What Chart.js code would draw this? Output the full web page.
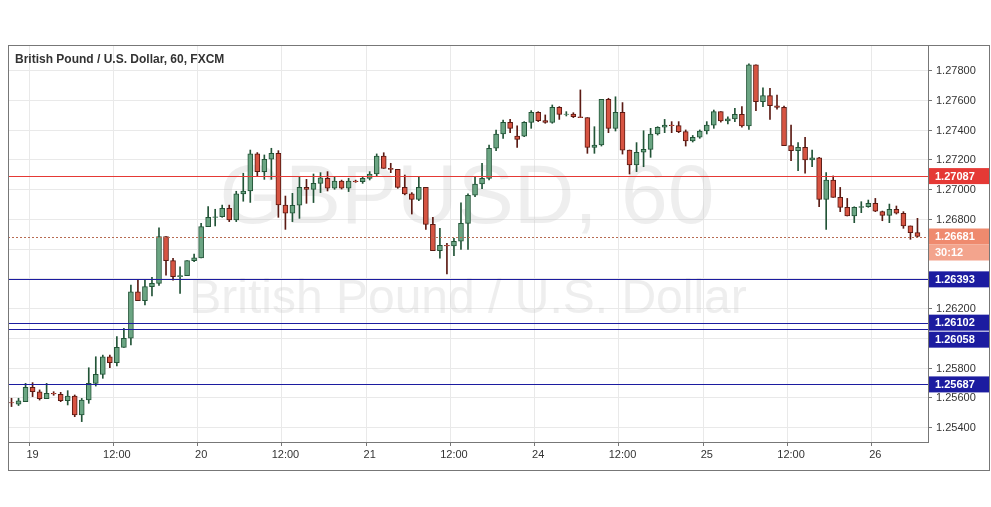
<!DOCTYPE html>
<html><head><meta charset="utf-8">
<script src="https://cdn.jsdelivr.net/npm/chart.js@4.4.1/dist/chart.umd.min.js"></script>
<style>html,body{margin:0;padding:0;background:#fff}#wrap{width:991px;height:507px}</style>
</head><body><div id="wrap"><canvas id="c"></canvas></div>
<script>
const hourIndexStart = -3;
const openP = [1.25565,1.25555,1.25571,1.25668,1.25638,1.25591,1.25627,1.25620,1.25578,1.25609,1.25482,1.25582,1.25694,1.25755,1.25873,1.25833,1.25936,1.25997,1.26310,1.26250,1.26344,1.26366,1.26680,1.26519,1.26411,1.26418,1.26519,1.26537,1.26747,1.26810,1.26814,1.26870,1.26792,1.26967,1.26987,1.27236,1.27117,1.27200,1.27240,1.26893,1.26837,1.26891,1.27011,1.26998,1.27038,1.27072,1.27005,1.27054,1.27005,1.27054,1.27050,1.27072,1.27101,1.27222,1.27139,1.27132,1.27011,1.26967,1.26931,1.27011,1.26763,1.26586,1.26622,1.26618,1.26649,1.26769,1.26958,1.27034,1.27072,1.27274,1.27370,1.27448,1.27356,1.27356,1.27448,1.27516,1.27460,1.27448,1.27549,1.27502,1.27504,1.27486,1.27480,1.27280,1.27296,1.27603,1.27408,1.27516,1.27262,1.27162,1.27247,1.27267,1.27370,1.27415,1.27430,1.27426,1.27386,1.27323,1.27348,1.27390,1.27430,1.27520,1.27457,1.27471,1.27502,1.27424,1.27834,1.27587,1.27628,1.27560,1.27549,1.27292,1.27258,1.27280,1.27195,1.27209,1.26931,1.27061,1.26944,1.26877,1.26819,1.26877,1.26882,1.26904,1.26848,1.26823,1.26864,1.26837,1.26752,1.26707];
const highP = [1.25594,1.25594,1.25694,1.25699,1.25650,1.25694,1.25638,1.25634,1.25645,1.25616,1.25593,1.25799,1.25873,1.25884,1.25884,1.26008,1.26064,1.26355,1.26389,1.26389,1.26406,1.26740,1.26680,1.26535,1.26478,1.26519,1.26563,1.26769,1.26882,1.26864,1.26892,1.26892,1.26985,1.27106,1.27262,1.27245,1.27229,1.27274,1.27258,1.26953,1.26971,1.27079,1.27065,1.27101,1.27110,1.27117,1.27083,1.27060,1.27072,1.27060,1.27083,1.27117,1.27236,1.27244,1.27173,1.27132,1.27094,1.26976,1.27083,1.27011,1.26810,1.26736,1.26635,1.26669,1.26908,1.26967,1.27083,1.27173,1.27296,1.27397,1.27464,1.27468,1.27424,1.27453,1.27527,1.27520,1.27498,1.27565,1.27554,1.27520,1.27513,1.27666,1.27480,1.27419,1.27603,1.27610,1.27620,1.27581,1.27262,1.27312,1.27392,1.27408,1.27419,1.27468,1.27453,1.27453,1.27397,1.27360,1.27397,1.27453,1.27531,1.27520,1.27486,1.27542,1.27554,1.27841,1.27834,1.27681,1.27676,1.27632,1.27558,1.27430,1.27312,1.27347,1.27262,1.27213,1.27110,1.27088,1.27011,1.26937,1.26881,1.26915,1.26926,1.26937,1.26852,1.26899,1.26886,1.26848,1.26752,1.26803];
const lowP = [1.25538,1.25545,1.25571,1.25605,1.25582,1.25591,1.25614,1.25571,1.25549,1.25470,1.25437,1.25560,1.25676,1.25728,1.25800,1.25811,1.25936,1.25952,1.26250,1.26221,1.26281,1.26352,1.26422,1.26388,1.26299,1.26418,1.26512,1.26537,1.26747,1.26752,1.26810,1.26781,1.26781,1.26918,1.26910,1.27085,1.27065,1.27065,1.26810,1.26729,1.26781,1.26803,1.26904,1.26909,1.26976,1.26987,1.26998,1.27000,1.26983,1.27045,1.27038,1.27061,1.27088,1.27139,1.27110,1.27005,1.26961,1.26832,1.26922,1.26729,1.26586,1.26535,1.26429,1.26553,1.26595,1.26595,1.26949,1.27003,1.27061,1.27258,1.27341,1.27379,1.27280,1.27352,1.27408,1.27453,1.27442,1.27442,1.27468,1.27491,1.27480,1.27480,1.27240,1.27240,1.27289,1.27379,1.27390,1.27235,1.27101,1.27117,1.27150,1.27213,1.27363,1.27379,1.27379,1.27379,1.27289,1.27316,1.27341,1.27370,1.27408,1.27450,1.27437,1.27453,1.27415,1.27401,1.27527,1.27553,1.27468,1.27536,1.27292,1.27191,1.27123,1.27106,1.27150,1.26881,1.26729,1.26944,1.26848,1.26819,1.26774,1.26841,1.26877,1.26848,1.26787,1.26774,1.26832,1.26736,1.26662,1.26678];
const closeP = [1.25562,1.25576,1.25668,1.25638,1.25591,1.25627,1.25623,1.25578,1.25609,1.25482,1.25582,1.25694,1.25755,1.25873,1.25833,1.25936,1.25997,1.26310,1.26250,1.26344,1.26366,1.26680,1.26519,1.26411,1.26418,1.26519,1.26537,1.26747,1.26810,1.26814,1.26870,1.26792,1.26967,1.26987,1.27236,1.27117,1.27200,1.27240,1.26893,1.26837,1.26891,1.27011,1.26998,1.27038,1.27076,1.27005,1.27054,1.27005,1.27054,1.27050,1.27072,1.27101,1.27222,1.27139,1.27132,1.27011,1.26967,1.26931,1.27011,1.26763,1.26586,1.26622,1.26618,1.26649,1.26769,1.26958,1.27034,1.27072,1.27274,1.27370,1.27448,1.27408,1.27334,1.27448,1.27516,1.27460,1.27448,1.27549,1.27502,1.27504,1.27486,1.27480,1.27280,1.27296,1.27603,1.27408,1.27516,1.27262,1.27162,1.27247,1.27267,1.27370,1.27415,1.27430,1.27426,1.27386,1.27323,1.27348,1.27390,1.27430,1.27520,1.27457,1.27471,1.27502,1.27424,1.27834,1.27587,1.27628,1.27560,1.27549,1.27292,1.27258,1.27280,1.27195,1.27209,1.26931,1.27061,1.26944,1.26877,1.26819,1.26877,1.26882,1.26904,1.26852,1.26823,1.26864,1.26837,1.26752,1.26707,1.26681];
const dayTicks = {0:'19',24:'20',48:'21',72:'24',96:'25',120:'26'};
const yTickValues = [1.254,1.256,1.258,1.260,1.262,1.264,1.266,1.268,1.270,1.272,1.274,1.276,1.278];
const redLevels = [1.27087];
const blueLevels = [1.26393,1.26102,1.26058,1.25687];
const lastPrice = 1.26681;
const countdown = '30:12';

const n = closeP.length;
const labels = [];
for (let k=0;k<n+1;k++){const i=k+hourIndexStart;const h=((i%24)+24)%24;labels.push(dayTicks[i]!==undefined?dayTicks[i]:(h===12?'12:00':''));}
const bodies = closeP.map((c,k)=>{const o=openP[k];if(Math.abs(c-o)<0.00003){const m=(c+o)/2;return [m-0.000012,m+0.000012];}return [o,c];});
const wicks = closeP.map((c,k)=>[lowP[k],highP[k]]);
const up = closeP.map((c,k)=>c>=openP[k]);
const UPF='#6ba583',UPB='#225437',DNF='#d75442',DNB='#5b1a13';
const BLUE='#1c1ca0', RED='#e53935';

const overlay = {
  id:'overlay',
  beforeDatasetsDraw(ch){
    const {ctx,chartArea:a,scales:{y}}=ch;
    ctx.save();
    ctx.lineWidth=1;
    ctx.fillStyle='#333';ctx.font='11px "Liberation Sans",Arial';ctx.textAlign='left';ctx.textBaseline='middle';
    yTickValues.forEach(v=>{const py=Math.round(y.getPixelForValue(v))+0.5;
      ctx.strokeStyle='#e9e9e9';ctx.beginPath();ctx.moveTo(a.left,py);ctx.lineTo(a.right,py);ctx.stroke();
      ctx.strokeStyle='#777';ctx.beginPath();ctx.moveTo(a.right,py);ctx.lineTo(a.right+4,py);ctx.stroke();
      ctx.fillText(v.toFixed(5),a.right+8,py);});
    ctx.beginPath();ctx.rect(a.left,a.top,a.right-a.left,a.bottom-a.top);ctx.clip();
    ctx.fillStyle='rgba(200,200,200,0.3)';ctx.textAlign='center';ctx.textBaseline='middle';
    ctx.font='84px "Liberation Sans",Arial';ctx.fillText('GBPUSD, 60',467,200);
    ctx.font='48px "Liberation Sans",Arial';ctx.fillText('British Pound / U.S. Dollar',468,300);
    ctx.restore();
  },
  afterDatasetsDraw(ch){
    const {ctx,chartArea:a,scales:{y}}=ch;
    ctx.save();
    const line=(v,col,dash)=>{const py=Math.round(y.getPixelForValue(v))+0.5;ctx.strokeStyle=col;ctx.lineWidth=1;ctx.setLineDash(dash||[]);ctx.beginPath();ctx.moveTo(a.left,py);ctx.lineTo(a.right,py);ctx.stroke();ctx.setLineDash([]);};
    redLevels.forEach(v=>line(v,RED));
    blueLevels.forEach(v=>line(v,BLUE));
    line(lastPrice,'#b86b52',[2,2]);
    const tag=(py,bg,txt)=>{ctx.fillStyle=bg;ctx.fillRect(a.right,py-8,62,16);ctx.fillStyle='#fff';ctx.font='bold 11px "Liberation Sans",Arial';ctx.textAlign='left';ctx.textBaseline='middle';ctx.fillText(txt,a.right+7,py+0.5);};
    redLevels.forEach(v=>tag(y.getPixelForValue(v),RED,v.toFixed(5)));
    const bl=blueLevels.map(v=>({v,p:y.getPixelForValue(v)})).sort((p,q)=>p.p-q.p);
    let prev=-1e9;
    bl.forEach(o=>{let p=o.p;if(p<prev+17)p=prev+17;tag(p,BLUE,o.v.toFixed(5));prev=p;});
    const lp=y.getPixelForValue(lastPrice);
    tag(lp,'#ef8a6e',lastPrice.toFixed(5));
    tag(lp+16,'#f3a48d',countdown);
    ctx.fillStyle='#333';ctx.font='bold 12px "Liberation Sans",Arial';ctx.textAlign='left';ctx.textBaseline='middle';
    ctx.fillText('British Pound / U.S. Dollar, 60, FXCM',15,60);
    ctx.strokeStyle='#777';ctx.lineWidth=1;
    ctx.strokeRect(a.left+0.5,a.top+0.5,a.right-a.left,a.bottom-a.top);
    ctx.strokeRect(a.left+0.5,a.top+0.5,989-a.left,470-a.top);
    ctx.restore();
  }
};

new Chart(document.getElementById('c'),{
  type:'bar',
  data:{labels,datasets:[
    {data:bodies,grouped:false,barThickness:5,backgroundColor:up.map(u=>u?UPF:DNF),borderColor:up.map(u=>u?UPB:DNB),borderWidth:1,borderSkipped:false},
    {data:wicks,grouped:false,barThickness:1,backgroundColor:up.map(u=>u?UPB:DNB),borderWidth:0}
  ]},
  options:{responsive:true,maintainAspectRatio:false,animation:false,
    layout:{padding:{left:8,top:45,right:1,bottom:37}},
    plugins:{legend:{display:false},tooltip:{enabled:false}},
    scales:{
      x:{offset:true,grid:{color:c=>labels[c.index]?'#e9e9e9':'rgba(0,0,0,0)',tickLength:4,tickColor:c=>labels[c.index]?'#777':'rgba(0,0,0,0)'},border:{display:false},
        ticks:{autoSkip:false,maxRotation:0,color:'#333',font:{size:11,family:'"Liberation Sans",Arial'},padding:2,callback:(v,i)=>labels[i]},
        afterFit(s){s.height=28;}},
      y:{position:'right',min:1.25300,max:1.27968,grid:{display:false},border:{display:false},
        ticks:{display:false},
        afterFit(s){s.width=62;}}
    }
  },
  plugins:[overlay]
});
</script></body></html>
